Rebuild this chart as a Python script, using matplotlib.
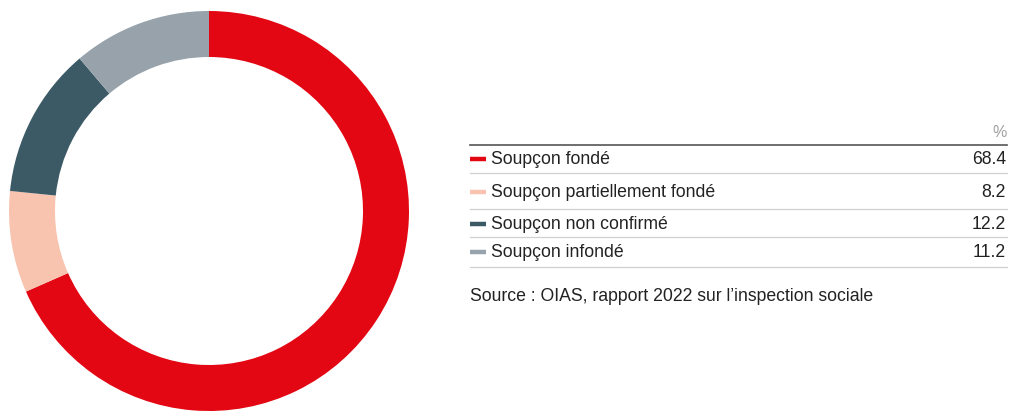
import matplotlib.pyplot as plt

# données
categories = ["Soupçon fondé", "Soupçon partiellement fondé",
              "Soupçon non confirmé", "Soupçon infondé"]
valeurs = [68.4, 8.2, 12.2, 11.2]
etiquettes = ["68.4", "8.2", "12.2", "11.2"]
couleurs = ["#E30613", "#F8C4AF", "#3C5A66", "#97A2AA"]
source = "Source : OIAS, rapport 2022 sur l’inspection sociale"

plt.rcParams["font.family"] = ["Liberation Sans", "DejaVu Sans"]

W, H = 1019, 414
fig = plt.figure(figsize=(W / 100, H / 100), dpi=100)

# anneau
cx, cy, r = 209, 212, 200
ax = fig.add_axes([(cx - r) / W, (H - cy - r) / H, 2 * r / W, 2 * r / H])
ax.pie(valeurs, colors=couleurs, startangle=90, counterclock=False,
       radius=1, wedgeprops=dict(width=46 / r, linewidth=0))
ax.set_xlim(-1, 1)
ax.set_ylim(-1, 1)
ax.set_aspect("equal")
ax.axis("off")

# tableau (coordonnées en pixels)
tx = fig.add_axes([0, 0, 1, 1])
tx.set_xlim(0, W)
tx.set_ylim(H, 0)
tx.axis("off")

x0, x1 = 470, 1007
tx.text(x1, 133, "%", ha="right", va="center", fontsize=11.5, color="#A0A0A0")
tx.plot([x0, x1], [146, 146], color="#555555", lw=1.2)

lignes_y = [174, 210, 238, 268]
texte_y = [160, 193, 225, 253]
for nom, val, c, ty, ly in zip(categories, etiquettes, couleurs, texte_y, lignes_y):
    tx.plot([x0, x0 + 16], [ty, ty], color=c, lw=3.2, solid_capstyle="butt")
    tx.text(x0 + 21, ty, nom, ha="left", va="center", fontsize=12.7, color="#222222")
    tx.text(x1 - 1, ty, val, ha="right", va="center", fontsize=12.7, color="#222222")
    tx.plot([x0, x1], [ly, ly], color="#D0D0D0", lw=0.9)

tx.text(x0, 297, source, ha="left", va="center", fontsize=12.7, color="#222222")

fig.savefig("out.png", dpi=100)
